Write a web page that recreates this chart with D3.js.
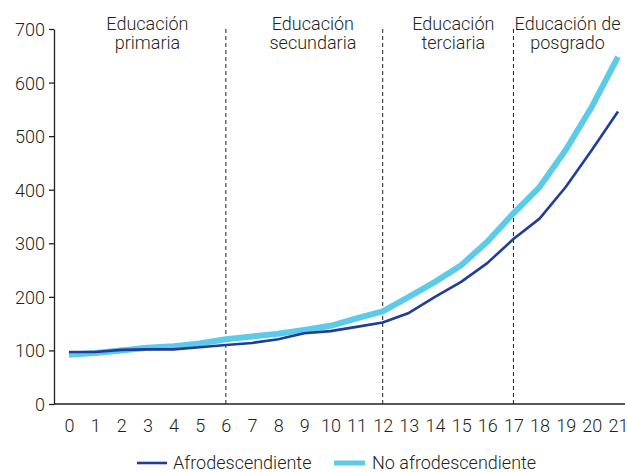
<!DOCTYPE html>
<html><head><meta charset="utf-8">
<script src="https://cdn.jsdelivr.net/npm/d3@7"></script>
<style>
html,body{margin:0;padding:0;background:#fff;}
text{font-family:Roboto,"Liberation Sans",sans-serif;font-weight:300;fill:#231f20;}
</style></head>
<body><svg id="c" width="627" height="472"></svg>
<script>
const years = d3.range(0, 22);
const afro = [97, 97, 101, 102, 102, 106, 110, 114, 121, 132, 136, 144, 152, 170, 200, 228, 263, 308, 346, 405, 474, 546];
const noAfro = [92, 95, 100, 105, 108, 113, 121, 126, 131, 138, 146, 160, 173, 200, 228, 259, 303, 356, 405, 474, 555, 648];
const yTicks = [0, 100, 200, 300, 400, 500, 600, 700];
const dividers = [6, 12, 17];
const stageLabels = [["Educación", "primaria"], ["Educación", "secundaria"], ["Educación", "terciaria"], ["Educación de", "posgrado"]];
const stagePos = [3, 9.33, 14.7, 19.07];
const seriesNames = ["Afrodescendiente", "No afrodescendiente"];
const colors = ["#1f3d99", "#5ccbea"];
const widths = [2.6, 6];

const svg = d3.select("#c");
const x = d3.scaleLinear().domain([0, 21]).range([69, 618]);
const y = d3.scaleLinear().domain([0, 700]).range([404, 29]);

// y axis
const yAxis = d3.axisLeft(y).tickValues(yTicks).tickSize(5).tickSizeOuter(0);
const gy = svg.append("g").attr("transform", "translate(54,0)").call(yAxis);
gy.select(".domain").attr("stroke", "#231f20").attr("stroke-width", 1.3);
gy.selectAll(".tick line").attr("stroke", "#231f20").attr("stroke-width", 1.3);
gy.selectAll(".tick text").attr("x", -9).attr("dy", "0.36em").style("font-size", "18px");

// x axis
const xAxis = d3.axisBottom(x).tickValues(years).tickSize(0).tickPadding(0);
const gx = svg.append("g").attr("transform", "translate(0,404)").call(xAxis);
gx.select(".domain").remove();
svg.append("line").attr("x1", 54).attr("x2", 625).attr("y1", 404).attr("y2", 404)
  .attr("stroke", "#231f20").attr("stroke-width", 1.3);
gx.selectAll(".tick text").attr("y", 28).attr("dy", 0).style("font-size", "18px");
svg.selectAll(".domain").attr("fill", "none");

// dividers
svg.selectAll("line.div").data(dividers).join("line").attr("class", "div")
  .attr("x1", d => x(d)).attr("x2", d => x(d)).attr("y1", 29).attr("y2", 404)
  .attr("stroke", "#231f20").attr("stroke-width", 1).attr("stroke-dasharray", "4,3");

// stage labels
stageLabels.forEach((lines, i) => {
  const t = svg.append("text").attr("x", x(stagePos[i])).attr("text-anchor", "middle").style("font-size", "18px");
  lines.forEach((l, j) => t.append("tspan").attr("x", x(stagePos[i])).attr("y", 30 + j * 19).text(l));
});

// lines
const line = d3.line().x((d, i) => x(years[i])).y(d => y(d));
[noAfro, afro].forEach((s, k) => {
  const idx = k === 0 ? 1 : 0;
  svg.append("path").datum(s).attr("d", line).attr("fill", "none")
    .attr("stroke", colors[idx]).attr("stroke-width", widths[idx]).attr("stroke-linejoin", "round");
});

// legend
const lg = [{x1: 137, x2: 167, tx: 173}, {x1: 334, x2: 365, tx: 372}];
seriesNames.forEach((n, i) => {
  svg.append("line").attr("x1", lg[i].x1).attr("x2", lg[i].x2).attr("y1", 463).attr("y2", 463)
    .attr("stroke", colors[i]).attr("stroke-width", widths[i] === 6 ? 5 : 2.6);
  svg.append("text").attr("x", lg[i].tx).attr("y", 469).style("font-size", "18px").text(n);
});
</script></body></html>
